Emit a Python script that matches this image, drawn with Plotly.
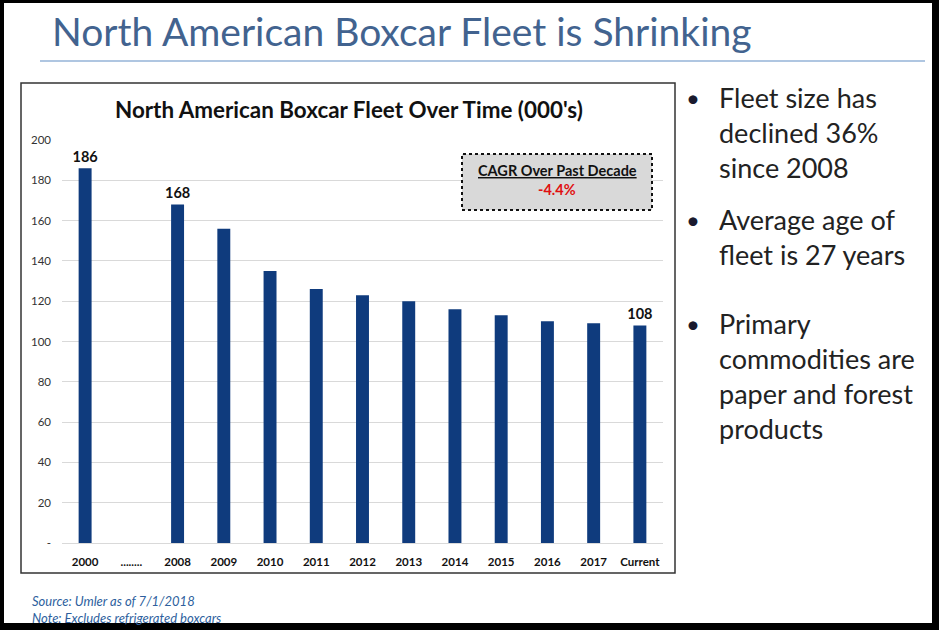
import plotly.graph_objects as go

# ---- data ----
categories = ["2000", "........", "2008", "2009", "2010", "2011", "2012",
              "2013", "2014", "2015", "2016", "2017", "Current"]
fleet_000s = [186, None, 168, 156, 135, 126, 123, 120, 116, 113, 110, 109, 108]
bar_labels = ["186", "", "168", "", "", "", "", "", "", "", "", "", "108"]
y_ticks = [0, 20, 40, 60, 80, 100, 120, 140, 160, 180, 200]
y_tick_text = ["-", "20", "40", "60", "80", "100", "120", "140", "160", "180", "200"]

page_title = "North American Boxcar Fleet is Shrinking"
chart_title = "North American Boxcar Fleet Over Time (000's)"
cagr_title = "CAGR Over Past Decade"
cagr_value = "-4.4%"
bullets = [
    ["Fleet size has", "declined 36%", "since 2008"],
    ["Average age of", "fleet is 27 years"],
    ["Primary", "commodities are", "paper and forest", "products"],
]
notes = ["Source: Umler as of 7/1/2018", "Note: Excludes refrigerated boxcars"]

# ---- layout geometry (pixels) ----
W, H = 939, 630
PL, PR, PT, PB = 62, 663, 140, 543  # plot area


def px(x):
    return (x - PL) / (PR - PL)


def py(y):
    return (PB - y) / (PB - PT)


FONT = "Lato"

fig = go.Figure()
fig.add_trace(go.Bar(
    x=categories, y=fleet_000s,
    marker=dict(color="#0F3B7D", line=dict(width=0)),
    text=bar_labels, textposition="outside", constraintext="none",
    textfont=dict(family=FONT, size=14.5, color="#111111", weight="bold"),
    cliponaxis=False, hoverinfo="x+y",
))

shapes = []
# black frame around the whole slide
for (x0, y0, x1, y1) in [(0, 0, 4, H), (932, 0, W, H), (0, 0, W, 3), (0, 623, W, H)]:
    shapes.append(dict(type="rect", xref="paper", yref="paper",
                       x0=px(x0), x1=px(x1), y0=py(y1), y1=py(y0),
                       fillcolor="black", line=dict(width=0), layer="above"))
# rule under page title
shapes.append(dict(type="line", xref="paper", yref="paper",
                   x0=px(40), x1=px(925), y0=py(61), y1=py(61),
                   line=dict(color="#95B3D7", width=1.5)))
# chart box
shapes.append(dict(type="rect", xref="paper", yref="paper",
                   x0=px(21), x1=px(675), y0=py(573), y1=py(83),
                   line=dict(color="#333333", width=1.5), layer="below"))
# CAGR box
shapes.append(dict(type="rect", xref="paper", yref="paper",
                   x0=px(462), x1=px(652), y0=py(210), y1=py(154),
                   fillcolor="#D9D9D9", line=dict(color="#111111", width=2, dash="dot"),
                   layer="above"))

ann = []
ann.append(dict(text=page_title, xref="paper", yref="paper", x=px(50), y=py(31),
                xanchor="left", yanchor="middle", showarrow=False,
                font=dict(family=FONT, size=39, color="#42638F", weight=400)))
ann.append(dict(text=chart_title, xref="paper", yref="paper", x=px(349), y=py(110),
                xanchor="center", yanchor="middle", showarrow=False,
                font=dict(family=FONT, size=22.4, color="#111111", weight="bold")))
ann.append(dict(text="<u>" + cagr_title + "</u>", xref="paper", yref="paper",
                x=px(557), y=py(171), xanchor="center", yanchor="middle", showarrow=False,
                font=dict(family=FONT, size=14.5, color="#111111", weight="bold")))
ann.append(dict(text=cagr_value, xref="paper", yref="paper",
                x=px(557), y=py(190), xanchor="center", yanchor="middle", showarrow=False,
                font=dict(family=FONT, size=14.5, color="#E01010", weight="bold")))

bullet_tops = [97, 219, 323]
line_h = 35
for top, lines in zip(bullet_tops, bullets):
    ann.append(dict(text="•", xref="paper", yref="paper", x=px(693), y=py(top),
                    xanchor="center", yanchor="middle", showarrow=False,
                    font=dict(family=FONT, size=24, color="#1A1A2E")))
    for i, ln in enumerate(lines):
        ann.append(dict(text=ln, xref="paper", yref="paper", x=px(717), y=py(top + i * line_h),
                        xanchor="left", yanchor="middle", showarrow=False,
                        font=dict(family=FONT, size=27, color="#222222")))

for i, n in enumerate(notes):
    ann.append(dict(text="<i>" + n + "</i>", xref="paper", yref="paper", x=px(30), y=py(601 + i * 16.5),
                    xanchor="left", yanchor="middle", showarrow=False,
                    font=dict(family=FONT, size=13, color="#2E5F9E")))

fig.update_layout(
    width=W, height=H,
    margin=dict(l=PL, r=W - PR, t=PT, b=H - PB, pad=0),
    paper_bgcolor="white", plot_bgcolor="white",
    showlegend=False, bargap=0.72,
    shapes=shapes, annotations=ann,
    xaxis=dict(type="category", tickfont=dict(family=FONT, size=11.5, color="#111111", weight="bold"),
               showline=True, linecolor="#D9D9D9", linewidth=1, ticks="", showgrid=False,
               ticklabelstandoff=8, fixedrange=True),
    yaxis=dict(range=[0, 200], tickvals=y_ticks, ticktext=y_tick_text,
               tickfont=dict(family=FONT, size=11.5, color="#333333"),
               showgrid=True, gridcolor="#D9D9D9", gridwidth=1, zeroline=False,
               showline=False, ticks="", ticklabelstandoff=10, fixedrange=True),
    font=dict(family=FONT),
)

fig.write_html("out.html", config={"displayModeBar": False},
               post_script="document.body.style.margin='0px';document.body.style.overflow='hidden';")
